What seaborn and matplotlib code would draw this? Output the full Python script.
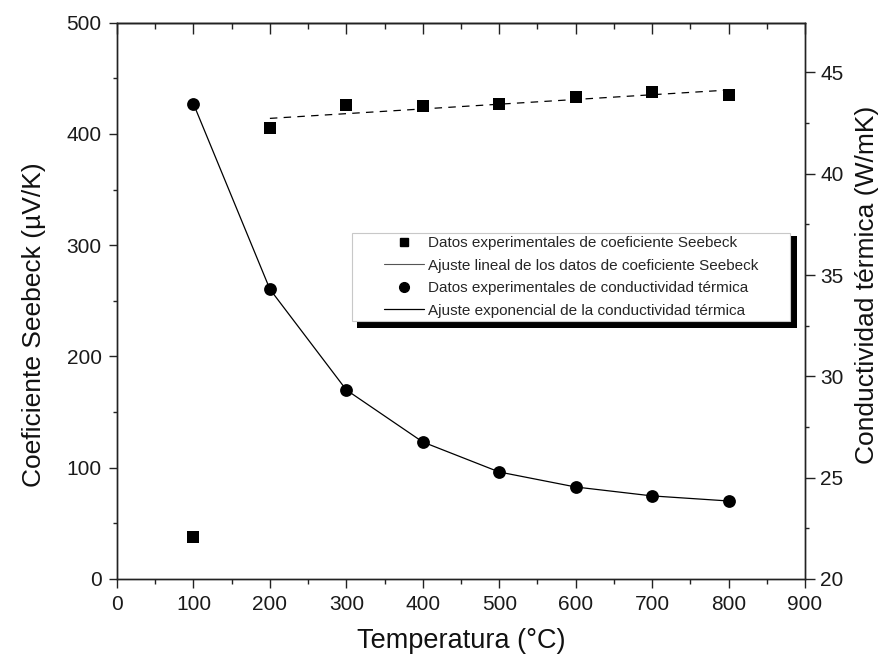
import matplotlib
matplotlib.use("Agg")
import matplotlib.pyplot as plt
from matplotlib.ticker import MultipleLocator
from matplotlib.patches import Rectangle
from matplotlib.lines import Line2D
import seaborn as sns
import pandas as pd

# ---- data ----
temperature = [100, 200, 300, 400, 500, 600, 700, 800]
seebeck = [38, 405, 426, 425, 427, 433, 438, 435]            # µV/K (left axis)
conductivity = [43.45, 34.3, 29.33, 26.76, 25.28, 24.54, 24.1, 23.85]  # W/mK (right axis)
lin_fit_x = [200, 800]
lin_fit_y = [414, 439.5]

legend_labels = [
    "Datos experimentales de coeficiente Seebeck",
    "Ajuste lineal de los datos de coeficiente Seebeck",
    "Datos experimentales de conductividad térmica",
    "Ajuste exponencial de la conductividad térmica",
]

sns.set_theme(style="ticks")
plt.rcParams["font.family"] = ["Liberation Sans", "DejaVu Sans"]

W, H = 883, 666
fig = plt.figure(figsize=(W / 100, H / 100), dpi=100)
fig.patch.set_facecolor("white")
L, R, T, B = 117, 805, 22.7, 579
ax = fig.add_axes([L / W, 1 - B / H, (R - L) / W, (B - T) / H])
ax2 = ax.twinx()

df_s = pd.DataFrame({"T": temperature, "S": seebeck})
df_k = pd.DataFrame({"T": temperature, "K": conductivity})
df_lf = pd.DataFrame({"T": lin_fit_x, "S": lin_fit_y})

sns.lineplot(data=df_lf, x="T", y="S", ax=ax, color="black", lw=0.9,
             dashes=False, linestyle=(0, (6, 5)), zorder=2)
sns.scatterplot(data=df_s, x="T", y="S", ax=ax, marker="s", s=75,
                color="black", edgecolor="black", linewidth=0, zorder=3)
sns.lineplot(data=df_k, x="T", y="K", ax=ax2, color="black", lw=0.9, zorder=2)
sns.scatterplot(data=df_k, x="T", y="K", ax=ax2, marker="o", s=85,
                color="black", edgecolor="black", linewidth=0, zorder=3)

ax.set_xlim(0, 900)
ax.set_ylim(0, 500)
ax2.set_ylim(20, 47.45)

ax.xaxis.set_major_locator(MultipleLocator(100))
ax.xaxis.set_minor_locator(MultipleLocator(50))
ax.yaxis.set_major_locator(MultipleLocator(100))
ax.yaxis.set_minor_locator(MultipleLocator(50))
ax2.yaxis.set_major_locator(MultipleLocator(5))
ax2.yaxis.set_minor_locator(MultipleLocator(2.5))

tc = "#222222"
for a in (ax, ax2):
    for s in a.spines.values():
        s.set_linewidth(1.0)
        s.set_color(tc)

ax.tick_params(axis="x", which="major", direction="out", length=6.5, width=1,
               labelsize=15, pad=5, colors=tc, labelcolor="#1a1a1a")
ax.tick_params(axis="x", which="minor", direction="out", length=3.5, width=1, colors=tc)
ax.tick_params(axis="y", which="major", direction="out", length=6, width=1,
               labelsize=15, pad=5, colors=tc, labelcolor="#1a1a1a")
ax.tick_params(axis="y", which="minor", direction="out", length=3, width=1, colors=tc)
ax2.tick_params(axis="y", which="major", direction="out", length=7, width=1,
                labelsize=15, pad=4, colors=tc, labelcolor="#1a1a1a")
ax2.tick_params(axis="y", which="minor", direction="out", length=3, width=1, colors=tc)

sec = ax.secondary_xaxis("top")
sec.xaxis.set_major_locator(MultipleLocator(100))
sec.xaxis.set_minor_locator(MultipleLocator(50))
sec.tick_params(axis="x", which="major", direction="in", length=8, width=1,
                labeltop=False, colors=tc)
sec.tick_params(axis="x", which="minor", direction="in", length=4.5, width=1, colors=tc)
sec.spines["top"].set_linewidth(1.0)
sec.spines["top"].set_color(tc)

ax.set_xlabel("Temperatura (°C)", fontsize=19.5, labelpad=10, color="#111111")
ax.set_ylabel("Coeficiente Seebeck (µV/K)", fontsize=19, labelpad=15, color="#111111")
ax2.set_ylabel("Conductividad térmica (W/mK)", fontsize=19, labelpad=8, color="#111111")
ax.yaxis.label.set_y(0.457)
ax2.yaxis.label.set_y(0.528)

# legend frame with black drop shadow (drawn in pixel-based figure coords)
fx0, fx1, fy0, fy1 = 352, 790, 233, 321
def fig_rect(x0, x1, ytop, ybot, **kw):
    return Rectangle((x0 / W, 1 - ybot / H), (x1 - x0) / W, (ybot - ytop) / H,
                     transform=fig.transFigure, **kw)
fig.patches.append(fig_rect(fx0 + 5, fx1 + 7, fy0 + 3, fy1 + 7,
                            facecolor="black", edgecolor="none", zorder=5))
fig.patches.append(fig_rect(fx0, fx1, fy0, fy1, facecolor="white",
                            edgecolor="#c8c8c8", linewidth=0.8, zorder=6))

handles = [
    Line2D([], [], marker="s", color="black", linestyle="none", markersize=6),
    Line2D([], [], color="#555555", lw=0.8),
    Line2D([], [], marker="o", color="black", linestyle="none", markersize=7),
    Line2D([], [], color="black", lw=0.9),
]
leg = fig.legend(handles, legend_labels, loc="center",
                 bbox_to_anchor=((fx0 + fx1) / 2 / W, 1 - (fy0 + fy1) / 2 / H),
                 frameon=False, fontsize=11, handlelength=2.6, handletextpad=0.25,
                 labelspacing=0.55, borderpad=0.2)
leg.set_zorder(7)

fig.savefig("out.png", dpi=100, facecolor="white")
